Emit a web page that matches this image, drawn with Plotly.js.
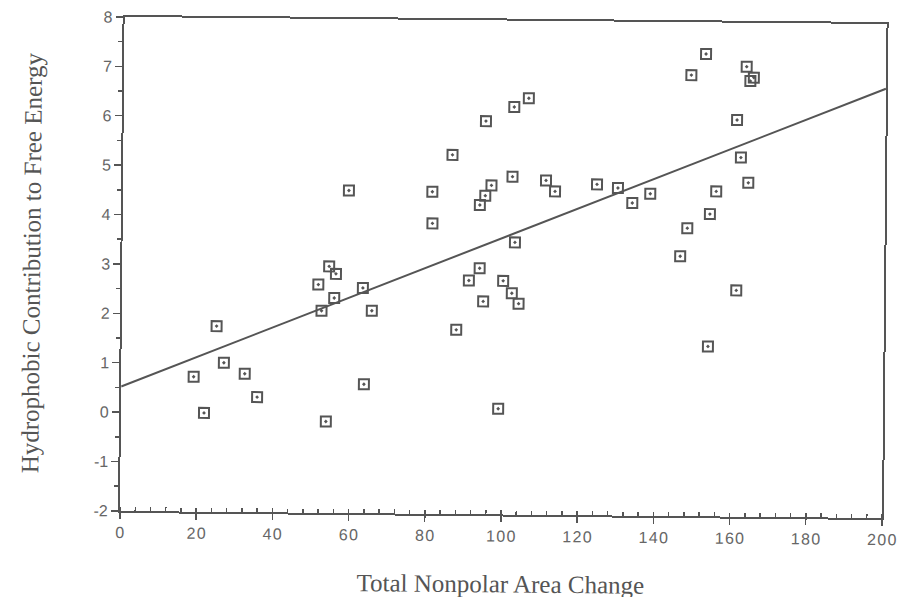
<!DOCTYPE html>
<html>
<head>
<meta charset="utf-8">
<script src="https://cdn.plot.ly/plotly-3.0.1.min.js"></script>
<style>
html,body{margin:0;padding:0;background:#fff;overflow:hidden;}
#chart{width:900px;height:597px;transform:rotate(0.53deg);transform-origin:450px 298.5px;}
</style>
</head>
<body>
<div id="chart"></div>
<script>
const areaChange = [19.0, 21.8, 24.9, 26.9, 32.4, 35.7, 51.5, 52.4, 54.3, 56.1, 55.7, 53.8, 59.3, 63.2, 63.7, 65.6,
  81.2, 81.3, 86.4, 87.8, 91.0, 93.8, 93.7, 94.8, 95.1, 95.1, 96.7, 99.0, 100.0, 102.3, 102.2, 102.5, 103.0, 104.1, 106.3,
  111.0, 113.4, 124.4, 129.9, 133.7, 138.4, 146.4, 148.2, 148.9, 152.7, 153.9, 154.1, 155.7, 161.0, 161.2, 162.1, 163.4, 164.1, 164.4, 165.3];
const freeEnergy = [0.73, 0.0, 1.76, 1.02, 0.8, 0.33, 2.62, 2.09, 2.99, 2.84, 2.35, -0.15, 4.53, 2.56, 0.61, 2.1,
  4.52, 3.88, 5.27, 1.73, 2.73, 2.98, 4.26, 2.31, 4.45, 5.96, 4.66, 0.14, 2.73, 2.48, 4.84, 6.25, 3.51, 2.27, 6.43,
  4.77, 4.55, 4.7, 4.63, 4.33, 4.52, 3.26, 3.83, 6.93, 7.36, 1.44, 4.12, 4.58, 6.03, 2.58, 5.27, 7.11, 4.76, 6.82, 6.89];
const fitX = [0, 200];
const fitY = [0.52, 6.69];
const xTickVals = [0, 20, 40, 60, 80, 100, 120, 140, 160, 180, 200];
const xTickText = ['0', '2\u200A0', '4\u200A0', '6\u200A0', '8\u200A0', '1\u200A0\u200A0', '1\u200A2\u200A0', '1\u200A4\u200A0', '1\u200A6\u200A0', '1\u200A8\u200A0', '2\u200A0\u200A0'];
const yTickVals = [-2, -1, 0, 1, 2, 3, 4, 5, 6, 7, 8];
const yTickText = ['-2', '-1', '0', '1', '2', '3', '4', '5', '6', '7', '8'];

const traces = [
  {x: fitX, y: fitY, mode: 'lines', line: {color: '#555', width: 2}, hoverinfo: 'skip'},
  {x: areaChange, y: freeEnergy, mode: 'markers',
   marker: {symbol: 'square-open-dot', size: 10, color: '#555', line: {width: 2, color: '#555'}}}
];
const tickFont = {family: 'Liberation Sans, Arial, sans-serif', size: 16, color: '#666'};
const titleFont = {family: 'Liberation Serif, Times New Roman, serif', size: 25, color: '#555'};
const layout = {
  width: 900, height: 597,
  margin: {l: 122, r: 16, t: 20, b: 83},
  showlegend: false,
  paper_bgcolor: '#fff', plot_bgcolor: '#fff',
  xaxis: {
    range: [0, 200], tickmode: 'array', tickvals: xTickVals, ticktext: xTickText,
    showgrid: false, zeroline: false,
    showline: true, linecolor: '#555', linewidth: 2, mirror: true,
    ticks: 'outside', ticklen: 6, tickwidth: 1.5, tickcolor: '#555',
    minor: {tickmode: 'linear', tick0: 0, dtick: 4, ticks: 'inside', ticklen: 4, tickwidth: 1.5, tickcolor: '#555'},
    tickfont: tickFont, ticklabelstandoff: 0,
    title: {text: 'Total Nonpolar Area Change', font: titleFont, standoff: 34}
  },
  yaxis: {
    range: [-2, 8], tickmode: 'array', tickvals: yTickVals, ticktext: yTickText,
    showgrid: false, zeroline: false,
    showline: true, linecolor: '#555', linewidth: 2, mirror: true,
    ticks: 'outside', ticklen: 7, tickwidth: 1.5, tickcolor: '#555',
    minor: {tickmode: 'linear', tick0: -2, dtick: 0.5, ticks: 'outside', ticklen: 4, tickwidth: 1.5, tickcolor: '#555'},
    tickfont: tickFont,
    title: {text: 'Hydrophobic Contribution to Free Energy', font: titleFont, standoff: 48}
  }
};
Plotly.newPlot('chart', traces, layout, {displayModeBar: false, staticPlot: true});
</script>
</body>
</html>
